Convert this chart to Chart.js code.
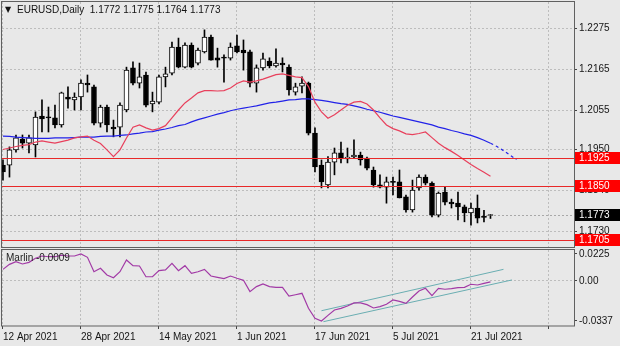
<!DOCTYPE html>
<html>
<head>
<meta charset="utf-8">
<title>EURUSD Daily</title>
<script src="https://cdn.jsdelivr.net/npm/chart.js@4.4.1/dist/chart.umd.min.js"></script>
<style>
  html, body { margin: 0; padding: 0; background: #e8e8e8; }
  #wrap { position: relative; width: 620px; height: 346px; overflow: hidden; }
  #main { position: absolute; left: 0; top: 0; }
  #osc { position: absolute; left: 0; top: 248px; }
</style>
</head>
<body>
<div id="wrap">
  <canvas id="main" width="620" height="248"></canvas>
  <canvas id="osc" width="620" height="98"></canvas>
</div>
<script>
// Daily bars, 12 Apr 2021 onwards (index = trading day)
const symbolTitle = 'EURUSD,Daily';

const opens = [
  1.1907, 1.1907, 1.1948, 1.1977, 1.1966, 1.1961, 1.2039, 1.2035, 1.2034, 1.2015,
  1.2090, 1.2082, 1.2090, 1.2127, 1.2117, 1.2020, 1.2063, 1.2009, 1.2009, 1.2055,
  1.2168, 1.2127, 1.2149, 1.2071, 1.2076, 1.2144, 1.2154, 1.2224, 1.2170, 1.2229,
  1.2181, 1.2211, 1.2251, 1.2195, 1.2195, 1.2194, 1.2227, 1.2216, 1.2211, 1.2127,
  1.2168, 1.2186, 1.2173, 1.2181, 1.2170, 1.2103, 1.2119, 1.2127, 1.1993, 1.1907,
  1.1854, 1.1915, 1.1940, 1.1924, 1.1929, 1.1934, 1.1926, 1.1894, 1.1854, 1.1848,
  1.1862, 1.1862, 1.1822, 1.1787, 1.1846, 1.1875, 1.1859, 1.1773, 1.1835, 1.1808,
  1.1805, 1.1795, 1.1779, 1.1792, 1.1768, 1.1772
];
const highs = [
  1.1921, 1.1956, 1.1988, 1.1988, 1.1988, 1.2050, 1.2082, 1.2063, 1.2068, 1.2103,
  1.2117, 1.2101, 1.2136, 1.2149, 1.2122, 1.2068, 1.2068, 1.2028, 1.2074, 1.2170,
  1.2184, 1.2181, 1.2157, 1.2103, 1.2149, 1.2170, 1.2237, 1.2248, 1.2235, 1.2235,
  1.2221, 1.2270, 1.2256, 1.2221, 1.2203, 1.2235, 1.2256, 1.2243, 1.2216, 1.2176,
  1.2208, 1.2195, 1.2219, 1.2195, 1.2176, 1.2127, 1.2144, 1.2130, 1.2007, 1.1921,
  1.1930, 1.1953, 1.1969, 1.1953, 1.1975, 1.1942, 1.1929, 1.1902, 1.1881, 1.1875,
  1.1875, 1.1894, 1.1827, 1.1867, 1.1881, 1.1881, 1.1862, 1.1835, 1.1848, 1.1816,
  1.1835, 1.1800, 1.1805, 1.1827, 1.1786, 1.1775
];
const lows = [
  1.1867, 1.1875, 1.1942, 1.1953, 1.1940, 1.1929, 1.1996, 1.1996, 1.2007, 1.2009,
  1.2060, 1.2055, 1.2055, 1.2103, 1.2015, 1.2009, 1.1996, 1.1983, 1.1983, 1.2050,
  1.2122, 1.2114, 1.2063, 1.2050, 1.2071, 1.2117, 1.2149, 1.2168, 1.2168, 1.2168,
  1.2176, 1.2208, 1.2189, 1.2170, 1.2130, 1.2189, 1.2208, 1.2162, 1.2117, 1.2103,
  1.2162, 1.2168, 1.2170, 1.2157, 1.2095, 1.2095, 1.2101, 1.1988, 1.1889, 1.1846,
  1.1846, 1.1881, 1.1913, 1.1913, 1.1926, 1.1907, 1.1894, 1.1848, 1.1846, 1.1805,
  1.1827, 1.1819, 1.1781, 1.1781, 1.1840, 1.1854, 1.1768, 1.1768, 1.1800, 1.1792,
  1.1760, 1.1755, 1.1746, 1.1752, 1.1755, 1.1764
];
const closes = [
  1.1889, 1.1948, 1.1980, 1.1966, 1.1980, 1.2036, 1.2031, 1.2034, 1.2015, 1.2101,
  1.2084, 1.2090, 1.2127, 1.2122, 1.2020, 1.2063, 1.2015, 1.2004, 1.2068, 1.2162,
  1.2127, 1.2144, 1.2068, 1.2079, 1.2144, 1.2152, 1.2224, 1.2170, 1.2229, 1.2170,
  1.2216, 1.2251, 1.2189, 1.2189, 1.2194, 1.2224, 1.2211, 1.2208, 1.2127, 1.2168,
  1.2192, 1.2173, 1.2181, 1.2176, 1.2109, 1.2117, 1.2127, 1.1993, 1.1902, 1.1862,
  1.1915, 1.1940, 1.1924, 1.1929, 1.1934, 1.1921, 1.1899, 1.1854, 1.1848, 1.1862,
  1.1861, 1.1819, 1.1787, 1.1840, 1.1875, 1.1859, 1.1773, 1.1832, 1.1808, 1.1803,
  1.1795, 1.1779, 1.1792, 1.1765, 1.1767, 1.1773
];

// moving averages on the price panel
const redMa = [
  1.1949, 1.1953, 1.1957, 1.1960, 1.1962, 1.1969, 1.1972, 1.1969, 1.1966, 1.1970,
  1.1974, 1.1980, 1.1983, 1.1985, 1.1974, 1.1965, 1.1948, 1.1930, 1.1948, 1.1980,
  1.2009, 1.2015, 1.2007, 1.2001, 1.2005, 1.2013, 1.2034, 1.2055, 1.2074, 1.2087,
  1.2101, 1.2107, 1.2107, 1.2106, 1.2107, 1.2114, 1.2126, 1.2133, 1.2130, 1.2133,
  1.2138, 1.2144, 1.2150, 1.2152, 1.2148, 1.2144, 1.2142, 1.2118, 1.2076, 1.2050,
  1.2033, 1.2042, 1.2055, 1.2068, 1.2076, 1.2078, 1.2071, 1.2055, 1.2034, 1.2015,
  1.2005, 1.1999, 1.1991, 1.1989, 1.1992, 1.1996, 1.1981, 1.1966, 1.1954, 1.1944,
  1.1933, 1.1921, 1.1909, 1.1898, 1.1888, 1.1877
];
const blueMa = [
  1.1985, 1.1984, 1.1982, 1.1981, 1.1980, 1.1979, 1.1979, 1.1979, 1.1980, 1.1980,
  1.1980, 1.1981, 1.1982, 1.1982, 1.1982, 1.1984, 1.1985, 1.1985, 1.1987, 1.1988,
  1.1991, 1.1993, 1.1996, 1.1997, 1.2001, 1.2004, 1.2008, 1.2013, 1.2016, 1.2023,
  1.2029, 1.2034, 1.2039, 1.2044, 1.2048, 1.2053, 1.2057, 1.2060, 1.2063, 1.2066,
  1.2070, 1.2074, 1.2076, 1.2079, 1.2082, 1.2083, 1.2085, 1.2085, 1.2083, 1.2081,
  1.2078, 1.2075, 1.2072, 1.2070, 1.2066, 1.2062, 1.2057, 1.2053, 1.2049, 1.2044,
  1.2039, 1.2035, 1.2031, 1.2027, 1.2023, 1.2019, 1.2015, 1.2009, 1.2005, 1.2000,
  1.1996, 1.1991, 1.1987, 1.1981, 1.1974, 1.1966
];
// dashed part of the slow average, starting at the last bar
const blueAheadStart = 75;
const blueAhead = [1.1966, 1.1957, 1.1946, 1.1934, 1.1922];

// horizontal levels
const levels = [1.1925, 1.1850, 1.1705];

// Marlin oscillator
const marlin = [
  0.0096, 0.0138, 0.0160, 0.0141, 0.0155, 0.0189, 0.0208, 0.0202, 0.0202, 0.0216,
  0.0208, 0.0208, 0.0225, 0.0197, 0.0076, 0.0105, 0.0049, 0.0026, 0.0076, 0.0174,
  0.0127, 0.0124, 0.0034, 0.0034, 0.0085, 0.0091, 0.0147, 0.0085, 0.0127, 0.0063,
  0.0076, 0.0096, 0.0040, 0.0029, 0.0018, 0.0040, 0.0021, 0.0004, -0.0091, -0.0049,
  -0.0027, -0.0049, -0.0055, -0.0055, -0.0128, -0.0117, -0.0105, -0.0231, -0.0315, -0.0337,
  -0.0290, -0.0245, -0.0231, -0.0211, -0.0185, -0.0186, -0.0200, -0.0228, -0.0217, -0.0197,
  -0.0161, -0.0172, -0.0189, -0.0136, -0.0086, -0.0063, -0.0124, -0.0063, -0.0071, -0.0066,
  -0.0058, -0.0055, -0.0029, -0.0035, -0.0021, -0.0009
];
// rising channel drawn on the oscillator
const channelUpperX = [49, 77];
const channelUpperY = [-0.0251, 0.0096];
const channelLowerX = [49.3, 78.3];
const channelLowerY = [-0.0343, 0.0007];

// axes
const dateTickIndex = [0, 12, 24, 36, 48, 60, 72, 84];
const dateTickLabels = ['12 Apr 2021', '28 Apr 2021', '14 May 2021', '1 Jun 2021',
  '17 Jun 2021', '5 Jul 2021', '21 Jul 2021', ''];
const priceTicks = [1.2275, 1.2165, 1.2055, 1.1950, 1.1840, 1.1730];
const marlinTicks = [0.0225, 0, -0.0337];

const X_MIN = -0.15, X_MAX = 87.85;
const PRICE_MIN = 1.16874, PRICE_MAX = 1.23448;
const MARLIN_MIN = -0.03792, MARLIN_MAX = 0.02584;

const BG = '#e8e8e8';
const GRID = '#bdbdbd';
const FRAME = '#606060';
const FONT = '"Liberation Sans", Arial, sans-serif';

Chart.defaults.font.family = FONT;
Chart.defaults.font.size = 10;
Chart.defaults.color = '#151515';

const last = closes.length - 1;
const pts = arr => arr.map((v, i) => ({ x: i, y: v }));
const pairPts = (xs, ys) => xs.map((x, k) => ({ x, y: ys[k] }));

function fixedTicks(values) {
  return scale => { scale.ticks = values.map(value => ({ value })); };
}
function rightAxisFit(scale) {
  scale.width = 46;
  scale.paddingTop = 0;
  scale.paddingBottom = 0;
}

// background, levels, frame and price tags for the upper panel
const mainDecor = {
  id: 'mainDecor',
  beforeDraw(chart) {
    const { ctx, width, height } = chart;
    ctx.save();
    ctx.fillStyle = BG;
    ctx.fillRect(0, 0, width, height);
    ctx.restore();
  },
  beforeDatasetsDraw(chart) {
    const { ctx, chartArea: a, scales: { y } } = chart;
    // bid line
    const py = Math.round(y.getPixelForValue(closes[last])) + 0.5;
    ctx.save();
    ctx.strokeStyle = '#a8a8a8';
    ctx.setLineDash([2, 2]);
    ctx.lineWidth = 1;
    ctx.beginPath();
    ctx.moveTo(a.left, py);
    ctx.lineTo(a.right, py);
    ctx.stroke();
    ctx.restore();
  },
  afterDatasetsDraw(chart) {
    const { ctx, chartArea: a, scales: { y } } = chart;
    ctx.save();
    ctx.beginPath();
    ctx.rect(a.left, a.top, a.width, a.height);
    ctx.clip();
    ctx.strokeStyle = '#e82828';
    ctx.lineWidth = 1;
    levels.forEach(v => {
      const py = Math.round(y.getPixelForValue(v)) + 0.5;
      ctx.beginPath();
      ctx.moveTo(a.left, py);
      ctx.lineTo(a.right, py);
      ctx.stroke();
    });
    ctx.restore();
  },
  afterDraw(chart) {
    const { ctx, chartArea: a, scales: { y } } = chart;
    ctx.save();
    // frame
    ctx.strokeStyle = FRAME;
    ctx.lineWidth = 1;
    ctx.strokeRect(1.5, 1.5, a.right - 1, a.bottom - 1);

    // price tags on the right
    ctx.font = '10px ' + FONT;
    ctx.textBaseline = 'middle';
    const tags = levels.map(v => ({ v, bg: '#f00' }));
    tags.push({ v: closes[last], bg: '#000' });
    tags.forEach(t => {
      const py = y.getPixelForValue(t.v);
      ctx.fillStyle = t.bg;
      ctx.fillRect(a.right + 1, Math.round(py) - 6, 46, 12);
      ctx.fillStyle = '#fff';
      ctx.fillText(t.v.toFixed(4), a.right + 5, Math.round(py) + 0.5);
    });

    // symbol line
    ctx.fillStyle = '#111';
    ctx.font = '8px "DejaVu Sans"';
    ctx.fillText('\u25BC', 5, 10);
    ctx.font = '10px ' + FONT;
    const ohlc = [opens[last], highs[last], lows[last], closes[last]].map(v => v.toFixed(4)).join(' ');
    ctx.fillText(symbolTitle + '  ' + ohlc, 17, 10);
    ctx.restore();
  }
};

const oscDecor = {
  id: 'oscDecor',
  beforeDraw(chart) {
    const { ctx, width, height } = chart;
    ctx.save();
    ctx.fillStyle = BG;
    ctx.fillRect(0, 0, width, height);
    ctx.restore();
  },
  afterDraw(chart) {
    const { ctx, chartArea: a } = chart;
    ctx.save();
    ctx.strokeStyle = FRAME;
    ctx.lineWidth = 1;
    ctx.strokeRect(1.5, 1.5, a.right - 1, a.bottom - 1.5);
    ctx.fillStyle = '#222';
    ctx.font = '10px ' + FONT;
    ctx.textBaseline = 'middle';
    ctx.fillText('Marlin ' + marlin[last].toFixed(4), 6, 10);
    ctx.restore();
  }
};

// price panel
new Chart(document.getElementById('main'), {
  type: 'bar',
  data: {
    datasets: [
      {
        type: 'line', data: pts(redMa), borderColor: '#e8405c', borderWidth: 1.2,
        pointRadius: 0, tension: 0, order: 0
      },
      {
        type: 'line', data: pts(blueMa), borderColor: '#2222e8', borderWidth: 1.2,
        pointRadius: 0, tension: 0, order: 0
      },
      {
        type: 'line', data: blueAhead.map((v, k) => ({ x: blueAheadStart + k, y: v })),
        borderColor: '#2222e8', borderWidth: 1.2, borderDash: [3, 3],
        pointRadius: 0, tension: 0, order: 0
      },
      {
        data: opens.map((o, i) => ({ x: i, y: [o, closes[i]] })),
        backgroundColor: opens.map((o, i) => closes[i] >= o ? '#fff' : '#000'),
        borderColor: '#000', borderWidth: 1, borderSkipped: false,
        barThickness: 5, minBarLength: 1, grouped: false, order: 1
      },
      {
        data: lows.map((l, i) => ({ x: i, y: [l, highs[i]] })),
        backgroundColor: '#000', barThickness: 1, grouped: false, order: 2
      }
    ]
  },
  options: {
    responsive: false,
    animation: false,
    devicePixelRatio: 1,
    layout: { padding: { left: 2, top: 2, right: 0, bottom: 1 } },
    plugins: { legend: { display: false }, tooltip: { enabled: false } },
    scales: {
      x: {
        type: 'linear', min: X_MIN, max: X_MAX, offset: false,
        afterBuildTicks: fixedTicks(dateTickIndex),
        ticks: { display: false },
        grid: { color: GRID, drawTicks: false, offset: false },
        border: { display: false, dash: [2, 2] }
      },
      y: {
        position: 'right', min: PRICE_MIN, max: PRICE_MAX,
        afterBuildTicks: fixedTicks(priceTicks),
        afterFit: rightAxisFit,
        ticks: { callback: v => v.toFixed(4), padding: 2 },
        grid: { color: GRID, tickColor: '#444', tickLength: 3 },
        border: { display: false, dash: [2, 2] }
      }
    }
  },
  plugins: [mainDecor]
});

// oscillator panel
new Chart(document.getElementById('osc'), {
  type: 'line',
  data: {
    datasets: [
      { data: pts(marlin), borderColor: '#a23aa6', borderWidth: 1.2, pointRadius: 0, tension: 0 },
      { data: pairPts(channelUpperX, channelUpperY), borderColor: '#6aaeb2', borderWidth: 1, pointRadius: 0 },
      { data: pairPts(channelLowerX, channelLowerY), borderColor: '#6aaeb2', borderWidth: 1, pointRadius: 0 }
    ]
  },
  options: {
    responsive: false,
    animation: false,
    devicePixelRatio: 1,
    layout: { padding: { left: 2, top: 2, right: 0, bottom: 0 } },
    plugins: { legend: { display: false }, tooltip: { enabled: false } },
    scales: {
      x: {
        type: 'linear', min: X_MIN, max: X_MAX, offset: false,
        afterBuildTicks: fixedTicks(dateTickIndex),
        afterFit: s => { s.height = 20; s.paddingLeft = 0; s.paddingRight = 0; },
        ticks: {
          callback: v => dateTickLabels[dateTickIndex.indexOf(v)],
          align: 'start', autoSkip: false, maxRotation: 0, padding: 2
        },
        grid: { color: GRID, tickColor: '#444', tickLength: 3 },
        border: { display: false, dash: [2, 2] }
      },
      y: {
        position: 'right', min: MARLIN_MIN, max: MARLIN_MAX,
        afterBuildTicks: fixedTicks(marlinTicks),
        afterFit: rightAxisFit,
        ticks: { callback: v => (v === 0 ? '0.00' : v.toFixed(4)), padding: 2 },
        grid: {
          color: c => (c.tick && c.tick.value === 0 ? GRID : 'rgba(0,0,0,0)'),
          tickColor: '#444', tickLength: 3
        },
        border: { display: false, dash: [2, 2] }
      }
    }
  },
  plugins: [oscDecor]
});
</script>
</body>
</html>
